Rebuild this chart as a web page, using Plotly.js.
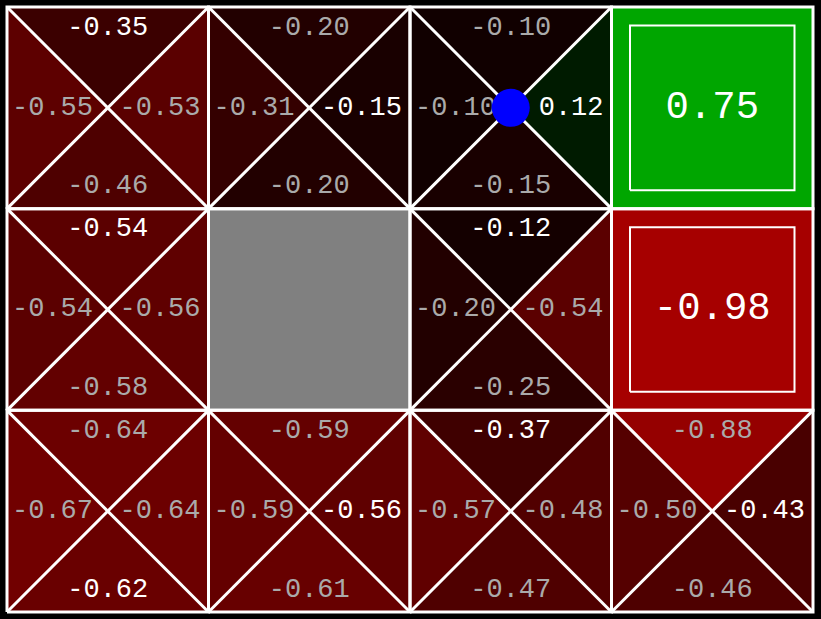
<!DOCTYPE html>
<html>
<head>
<meta charset="utf-8">
<script src="https://cdn.plot.ly/plotly-3.0.1.min.js"></script>
<style>html,body{margin:0;padding:0;background:#000;}#chart{width:821px;height:619px;}</style>
</head>
<body>
<div id="chart"></div>
<script>
// ---- data (rows listed top to bottom, columns left to right) ----
const nCols = 4;
const nRows = 3;
const qNorth = [[-0.35, -0.20, -0.10, null], [-0.54, null, -0.12, null], [-0.64, -0.59, -0.37, -0.88]];
const qSouth = [[-0.46, -0.20, -0.15, null], [-0.58, null, -0.25, null], [-0.62, -0.61, -0.47, -0.46]];
const qEast  = [[-0.53, -0.15,  0.12, null], [-0.56, null, -0.54, null], [-0.64, -0.56, -0.48, -0.43]];
const qWest  = [[-0.55, -0.31, -0.10, null], [-0.54, null, -0.20, null], [-0.67, -0.59, -0.57, -0.50]];
const terminalValues = [[null, null, null, 0.75], [null, null, null, -0.98], [null, null, null, null]];
const wallCols = [1];
const wallRows = [1];
const agentCols = [2];
const agentRows = [0];

// ---- helpers ----
const W = 821, H = 619;
const PX = 201.5; // px per cell
const all = [];
[qNorth, qSouth, qEast, qWest, terminalValues].forEach(g => g.forEach(r => r.forEach(v => { if (v !== null) all.push(v); })));
const minV = Math.min(...all), maxV = Math.max(...all);
function colorOf(v) {
  let r = 0, g = 0;
  if (v < 0 && minV < 0) r = v * 0.65 / minV;
  if (v > 0 && maxV > 0) g = v * 0.65 / maxV;
  return 'rgb(' + Math.round(r * 255) + ',' + Math.round(g * 255) + ',0)';
}
const fmt = v => v.toFixed(2);
const isWall = (c, r) => wallCols.some((wc, i) => wc === c && wallRows[i] === r);

const traces = [];
const lineX = [], lineY = [];
const grayTexts = {x: [], y: [], t: []};
const whiteTexts = {x: [], y: [], t: []};
const bigTexts = {x: [], y: [], t: []};
const FS = 27, CHW = 0.6 * FS;

for (let r = 0; r < nRows; r++) {
  for (let c = 0; c < nCols; c++) {
    const x0 = c, x1 = c + 1, y0 = nRows - 1 - r, y1 = nRows - r;
    const cx = c + 0.5, cy = y0 + 0.5;
    if (isWall(c, r)) {
      traces.push({type: 'scatter', mode: 'none', x: [x0, x1, x1, x0, x0], y: [y0, y0, y1, y1, y0], fill: 'toself', fillcolor: '#808080', hoverinfo: 'skip', showlegend: false});
    } else if (terminalValues[r][c] !== null) {
      const v = terminalValues[r][c];
      traces.push({type: 'scatter', mode: 'none', x: [x0, x1, x1, x0, x0], y: [y0, y0, y1, y1, y0], fill: 'toself', fillcolor: colorOf(v), hoverinfo: 'skip', showlegend: false});
      const ins = 18.5 / PX;
      traces.push({type: 'scatter', mode: 'lines', x: [x0 + ins, x1 - ins, x1 - ins, x0 + ins, x0 + ins], y: [y0 + ins, y0 + ins, y1 - ins, y1 - ins, y0 + ins], line: {color: '#ffffff', width: 2}, hoverinfo: 'skip', showlegend: false});
      bigTexts.x.push(cx); bigTexts.y.push(cy); bigTexts.t.push(fmt(v));
    } else {
      const q = [qNorth[r][c], qSouth[r][c], qEast[r][c], qWest[r][c]];
      const tri = [
        [[x0, x1, cx, x0], [y1, y1, cy, y1]],
        [[x0, x1, cx, x0], [y0, y0, cy, y0]],
        [[x1, x1, cx, x1], [y1, y0, cy, y1]],
        [[x0, x0, cx, x0], [y1, y0, cy, y1]]
      ];
      q.forEach((v, i) => {
        traces.push({type: 'scatter', mode: 'none', x: tri[i][0], y: tri[i][1], fill: 'toself', fillcolor: colorOf(v), hoverinfo: 'skip', showlegend: false});
      });
      const best = q.indexOf(Math.max(...q));
      const labels = q.map(fmt);
      const pos = [
        [cx, y1 - 21 / PX],
        [cx, y0 + 22 / PX],
        [x1 - (8 + labels[2].length * CHW / 2) / PX, cy],
        [x0 + (5 + labels[3].length * CHW / 2) / PX, cy]
      ];
      labels.forEach((t, i) => {
        const tgt = i === best ? whiteTexts : grayTexts;
        tgt.x.push(pos[i][0]); tgt.y.push(pos[i][1]); tgt.t.push(t);
      });
      lineX.push(x0, x1, null, x0, x1, null);
      lineY.push(y1, y0, null, y0, y1, null);
    }
    lineX.push(x0, x1, x1, x0, x0, null);
    lineY.push(y0, y0, y1, y1, y0, null);
  }
}

traces.push({type: 'scatter', mode: 'lines', x: lineX, y: lineY, line: {color: '#ffffff', width: 3}, hoverinfo: 'skip', showlegend: false});
traces.push({type: 'scatter', mode: 'text', x: grayTexts.x, y: grayTexts.y, text: grayTexts.t, textposition: 'middle center',
  textfont: {family: 'Liberation Mono, monospace', size: FS, color: '#aaaaaa'}, hoverinfo: 'skip', showlegend: false});
traces.push({type: 'scatter', mode: 'text', x: whiteTexts.x, y: whiteTexts.y, text: whiteTexts.t, textposition: 'middle center',
  textfont: {family: 'Liberation Mono, monospace', size: FS, color: '#ffffff'}, hoverinfo: 'skip', showlegend: false});
traces.push({type: 'scatter', mode: 'text', x: bigTexts.x, y: bigTexts.y, text: bigTexts.t, textposition: 'middle center',
  textfont: {family: 'Liberation Mono, monospace', size: 39, color: '#ffffff'}, hoverinfo: 'skip', showlegend: false});
traces.push({type: 'scatter', mode: 'markers', x: agentCols.map(c => c + 0.5), y: agentRows.map(r => nRows - r - 0.5),
  marker: {color: '#0000ff', size: 38, line: {width: 0}}, hoverinfo: 'skip', showlegend: false});

const layout = {
  width: W, height: H,
  margin: {l: 0, r: 0, t: 0, b: 0},
  paper_bgcolor: '#000000', plot_bgcolor: '#000000',
  xaxis: {range: [-7 / PX, nCols + 8 / PX], visible: false, fixedrange: true},
  yaxis: {range: [-7 / PX, nRows + 7 / PX], visible: false, fixedrange: true},
  showlegend: false
};
Plotly.newPlot('chart', traces, layout, {staticPlot: true});
</script>
</body>
</html>
